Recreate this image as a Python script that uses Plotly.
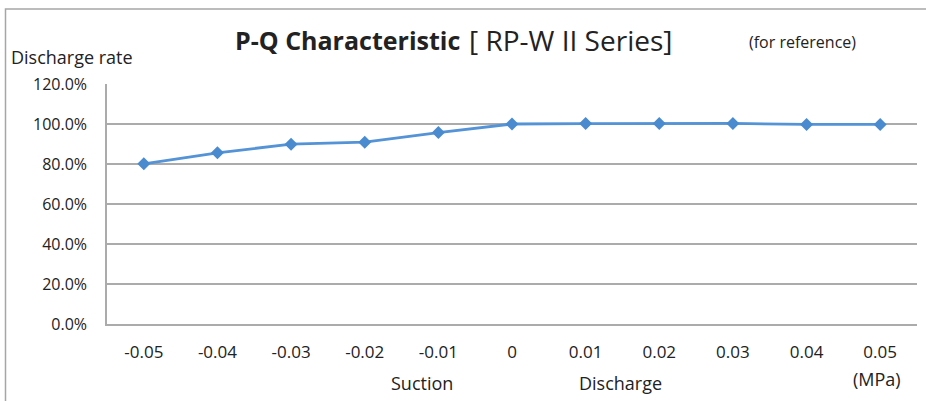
import plotly.graph_objects as go

# Data
pressure_labels = ["-0.05", "-0.04", "-0.03", "-0.02", "-0.01", "0",
                   "0.01", "0.02", "0.03", "0.04", "0.05"]
discharge_rate = [0.801, 0.856, 0.899, 0.909, 0.957, 1.000,
                  1.002, 1.002, 1.003, 0.998, 0.998]
y_ticks = [0.0, 0.2, 0.4, 0.6, 0.8, 1.0, 1.2]

W, H = 926, 401
L, R, T, B = 107, 9, 84, 77
PW, PH = W - L - R, H - T - B

def px(x):
    return (x - L) / PW

def py(y):
    return (H - B - y) / PH

FONT = "Open Sans"
TXT = "#222222"

fig = go.Figure()
fig.add_trace(go.Scatter(
    x=pressure_labels, y=discharge_rate, mode="lines+markers",
    line=dict(color="#5393D6", width=2.8),
    marker=dict(symbol="diamond", size=10, color="#4A8BD0"),
    showlegend=False, hoverinfo="x+y",
))

fig.update_layout(
    width=W, height=H,
    margin=dict(l=L, r=R, t=T, b=B, pad=0),
    paper_bgcolor="white", plot_bgcolor="white",
    font=dict(family=FONT, size=16, color=TXT),
    xaxis=dict(
        type="category", range=[-0.5, 10.5],
        showgrid=False, showline=True, linecolor="#ABABAB", linewidth=1.5,
        ticks="outside", ticklen=12, tickcolor="rgba(0,0,0,0)",
        tickfont=dict(family=FONT, size=17, color=TXT),
        zeroline=False, fixedrange=True,
    ),
    yaxis=dict(
        range=[0, 1.2], tickvals=y_ticks, tickformat=".1%",
        showgrid=True, gridcolor="#ABABAB", gridwidth=1.5,
        showline=True, linecolor="#ABABAB", linewidth=1.5,
        ticks="outside", ticklen=15, tickcolor="rgba(0,0,0,0)",
        tickfont=dict(family=FONT, size=16, color=TXT),
        zeroline=False, fixedrange=True,
    ),
)

# outer chart border
fig.add_shape(type="rect", xref="paper", yref="paper",
              x0=px(5.5), x1=px(940), y0=py(9), y1=py(420),
              line=dict(color="#A6A6A6", width=1.5), layer="below")

def ann(text, x, y, size, **kw):
    fig.add_annotation(text=text, xref="paper", yref="paper",
                       x=px(x), y=py(y), xanchor="center", yanchor="middle",
                       showarrow=False, font=dict(family=FONT, size=size, color=TXT), **kw)

ann("<b>P-Q Characteristic</b>", 347, 40, 25)
ann("[ RP-W II Series]", 570, 40, 28)
ann("(for reference)", 802, 42, 16)
ann("Discharge rate", 72, 57, 18)
ann("Suction", 422, 383, 18)
ann("Discharge", 620, 383, 18)
ann("(MPa)", 877, 379, 18)

fig.write_html("out.html", post_script="document.body.style.margin='0';",
               config={"displayModeBar": False})
